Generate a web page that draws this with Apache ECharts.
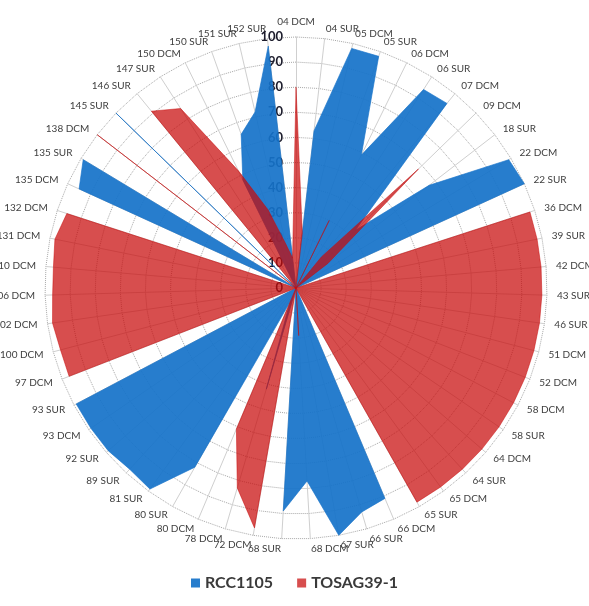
<!DOCTYPE html>
<html>
<head>
<meta charset="utf-8">
<script src="https://cdn.jsdelivr.net/npm/echarts@6/dist/echarts.min.js"></script>
<style>
  html, body { margin: 0; padding: 0; background: #ffffff; }
  #chart { width: 589px; height: 606px; }
</style>
</head>
<body>
<div id="chart"></div>
<script>
// Samples, listed clockwise starting from the top spoke
const categories = [
  '04 DCM', '04 SUR', '05 DCM', '05 SUR', '06 DCM', '06 SUR', '07 DCM', '09 DCM', '18 SUR', '22 DCM',
  '22 SUR', '36 DCM', '39 SUR', '42 DCM', '43 SUR', '46 SUR', '51 DCM', '52 DCM', '58 DCM', '58 SUR',
  '64 DCM', '64 SUR', '65 DCM', '65 SUR', '66 DCM', '66 SUR', '67 SUR', '68 DCM', '68 SUR', '72 DCM',
  '78 DCM', '80 DCM', '80 SUR', '81 SUR', '89 SUR', '92 SUR', '93 DCM', '93 SUR', '97 DCM', '100 DCM',
  '102 DCM', '106 DCM', '110 DCM', '131 DCM', '132 DCM', '135 DCM', '135 SUR', '138 DCM', '145 SUR', '146 SUR',
  '147 SUR', '150 DCM', '150 SUR', '151 SUR', '152 SUR'
];

// Percentage assigned to each reference genotype
const rcc1105 = [
  0, 63, 98, 98, 59, 94, 95, 33, 67, 99,
  100, 0, 0, 0, 0, 0, 0, 0, 0, 0,
  0, 0, 0, 0, 91, 93, 100, 77, 89, 0,
  42, 6, 82, 99, 98, 99, 99, 99, 0, 0,
  0, 0, 0, 0, 0, 95, 99, 0, 100, 0,
  0, 48, 65, 72, 97
];
const tosag39 = [
  80, 22, 0, 0, 30, 0, 16, 68, 16, 0,
  0, 98, 98, 98, 98, 98, 98, 98, 98, 98,
  98, 98, 98, 98, 0, 0, 0, 19, 0, 97,
  83, 61, 0, 0, 0, 0, 0, 0, 97, 97,
  98, 97, 97, 98, 96, 0, 0, 100, 0, 91,
  85, 52, 33, 18, 12
];

const seriesNames = ['RCC1105', 'TOSAG39-1'];
const axisMin = 0;
const axisMax = 100;
const axisSplits = 10;

// ECharts lays radar spokes out counter-clockwise, so feed them in reverse
// (keeping the first one on top) to read clockwise.
const order = [0];
for (let i = categories.length - 1; i >= 1; i--) order.push(i);
const pick = arr => order.map(i => arr[i]);

const indicators = order.map((i, k) => {
  const ind = { name: categories[i], min: axisMin, max: axisMax };
  if (k === 0) {
    // value scale printed along the top spoke, on its left side
    ind.axisLabel = {
      show: true,
      color: '#1b1b2b',
      fontFamily: 'Lato',
      fontWeight: 'bold',
      fontSize: 13,
      margin: 13,
      align: 'right'
    };
  }
  return ind;
});

const chart = echarts.init(document.getElementById('chart'), null, { renderer: 'canvas' });

chart.setOption({
  backgroundColor: '#ffffff',
  animation: false,
  legend: {
    data: seriesNames,
    bottom: 10,
    left: 'center',
    icon: 'rect',
    itemWidth: 9,
    itemHeight: 9,
    itemGap: 24,
    textStyle: { fontFamily: 'Lato', fontWeight: 'bold', fontSize: 16, color: '#3a3a3a' }
  },
  radar: {
    center: [296, 288],
    radius: 251,
    startAngle: 90,
    shape: 'polygon',
    splitNumber: axisSplits,
    indicator: indicators,
    nameGap: 10,
    axisName: { color: '#404040', fontFamily: 'Lato', fontSize: 10 },
    axisLabel: { show: false },
    axisTick: { show: false },
    axisLine: { lineStyle: { color: '#cfcfcf', width: 1 } },
    splitLine: { lineStyle: { color: '#a8a8a8', width: 1, type: 'dotted' } },
    splitArea: { show: false }
  },
  series: [
    {
      name: seriesNames[0],
      type: 'radar',
      symbol: 'none',
      itemStyle: { color: 'rgba(21,114,201,0.92)' },
      lineStyle: { color: 'rgba(21,114,201,0.92)', width: 0.7 },
      areaStyle: { color: 'rgba(21,114,201,0.92)', opacity: 1 },
      data: [{ name: seriesNames[0], value: pick(rcc1105) }]
    },
    {
      name: seriesNames[1],
      type: 'radar',
      symbol: 'none',
      itemStyle: { color: 'rgba(200,10,10,0.72)' },
      lineStyle: { color: 'rgba(200,10,10,0.72)', width: 0.7 },
      areaStyle: { color: 'rgba(200,10,10,0.72)', opacity: 1 },
      data: [{ name: seriesNames[1], value: pick(tosag39) }]
    }
  ]
});
</script>
</body>
</html>
